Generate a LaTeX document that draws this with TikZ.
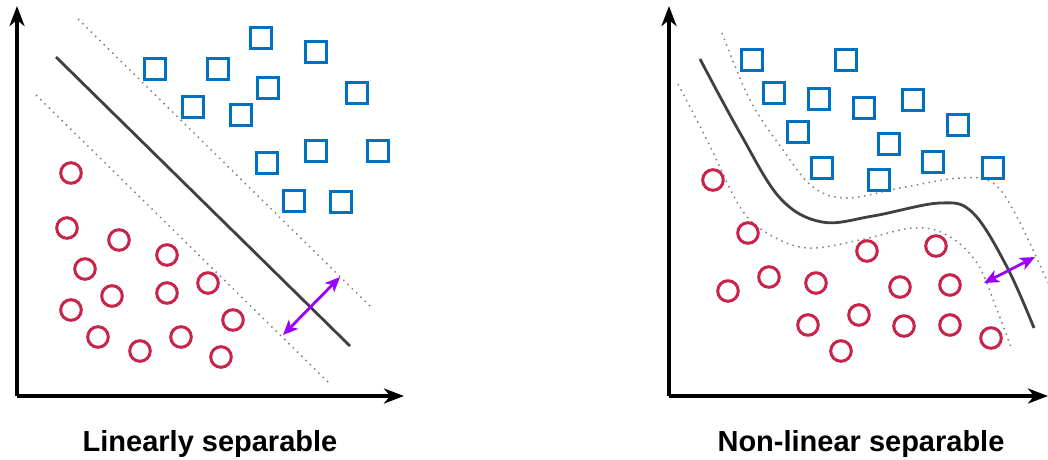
\documentclass[tikz,border=0pt]{standalone}
\usepackage{fontspec}
\setmainfont{Liberation Sans}
\usetikzlibrary{arrows.meta}
\definecolor{sqblue}{HTML}{0070C0}
\definecolor{circred}{HTML}{C8234A}
\definecolor{mpurple}{HTML}{9900FF}
\definecolor{sepgray}{HTML}{404040}
\tikzset{
  sq/.style={draw=sqblue, line width=3.2pt, minimum size=21pt, inner sep=0pt, shape=rectangle},
  cr/.style={draw=circred, line width=3pt, minimum size=20.6pt, inner sep=0pt, shape=circle},
  axis/.style={line width=3.5pt, -{Stealth[length=20pt,width=15pt,inset=6pt]}},
  sep/.style={draw=sepgray, line width=2.8pt},
  margin/.style={draw=gray, line width=1.5pt, dash pattern=on 1.5pt off 4.5pt},
  marg/.style={draw=mpurple, line width=2.8pt, {Stealth[length=15pt,width=13pt,inset=4pt]}-{Stealth[length=15pt,width=13pt,inset=4pt]}},
  lbl/.style={font=\bfseries\fontsize{29}{32}\selectfont, anchor=base, inner sep=0pt}
}
\begin{document}
\begin{tikzpicture}[x=1pt,y=-1pt]
\useasboundingbox (0,0) rectangle (1048,459);
% ---------- left panel ----------
\coordinate (o1) at (17,396);
\coordinate (ytop1) at (17,6);
\coordinate (xend1) at (404,396);
\draw[axis] (o1) -- (ytop1);
\draw[axis] (o1) -- (xend1);
\coordinate (la) at (56,57);
\coordinate (lb) at (350,346);
\draw[sep] (la) -- (lb);
\coordinate (ua) at (78,19);
\coordinate (ub) at (373,309);
\draw[margin] (ua) -- (ub);
\coordinate (da) at (36,95);
\coordinate (db) at (330,384);
\draw[margin] (da) -- (db);
\foreach \n/\x/\y in {1/155/69,2/218/69,3/261/38,4/316/52,5/268/88,6/357/93,7/193/107,8/241/115,9/316/151,10/378/151,11/267/163,12/294/201,13/341/202}
  \node[sq] (ls\n) at (\x,\y) {};
\foreach \n/\x/\y in {1/71/173,2/67/228,3/119/240,4/167/255,5/85/269,6/208/283,7/112/296,8/167/293,9/71/310,10/233/320,11/98/337,12/181/337,13/140/351,14/221/357}
  \node[cr] (lc\n) at (\x,\y) {};
\coordinate (pa1) at (283,335);
\coordinate (pb1) at (340,277);
\draw[marg] (pa1) -- (pb1);
\node[lbl] (t1) at (210,451) {Linearly separable};
% ---------- right panel ----------
\coordinate (o2) at (669,396);
\coordinate (ytop2) at (669,6);
\coordinate (xend2) at (1048,396);
\draw[axis] (o2) -- (ytop2);
\draw[axis] (o2) -- (xend2);
\draw[sep] plot[smooth, tension=0.6] coordinates {(700,59) (740,133) (780,198) (822,222) (873,216) (940,203) (973,213) (1007,267) (1034,328)};
\draw[margin] plot[smooth, tension=0.6] coordinates {(722,33) (750,100) (783,150) (813,187) (847,198) (900,188) (960,178) (993,183) (1017,217) (1048,283)};
\draw[margin] plot[smooth, tension=0.6] coordinates {(678,84) (707,140) (740,207) (767,233) (807,248) (860,240) (913,228) (947,235) (977,263) (997,310) (1012,350)};
\foreach \n/\x/\y in {1/752/60,2/846/60,3/774/93,4/819/99,5/864/108,6/913/100,7/958/125,8/798/132,9/889/144,10/822/168,11/933/162,12/879/180,13/993/168}
  \node[sq] (rs\n) at (\x,\y) {};
\foreach \n/\x/\y in {1/713/180,2/748/233,3/867/251,4/936/246,5/769/277,6/816/283,7/728/291,8/900/287,9/950/285,10/859/315,11/808/325,12/904/326,13/950/325,14/991/338,15/841/351}
  \node[cr] (rc\n) at (\x,\y) {};
\coordinate (pa2) at (984,283);
\coordinate (pb2) at (1035,257);
\draw[marg] (pa2) -- (pb2);
\node[lbl] (t2) at (861,451) {Non-linear separable};
\end{tikzpicture}
\end{document}
